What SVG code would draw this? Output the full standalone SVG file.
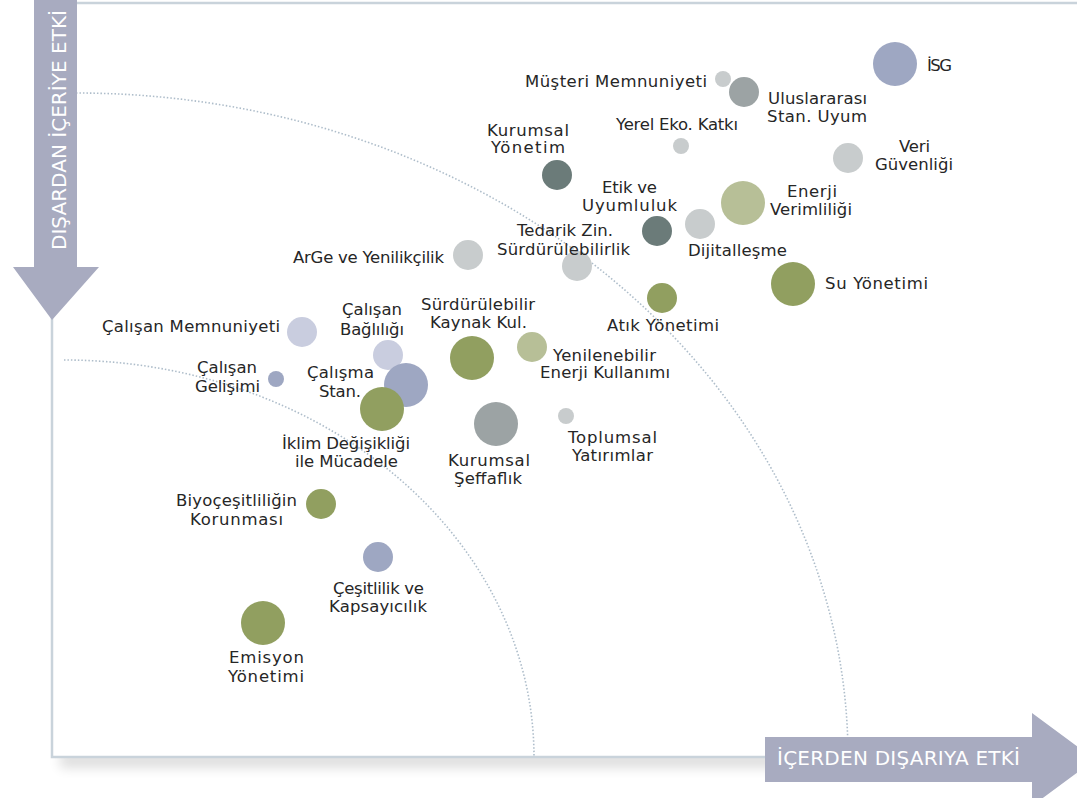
<svg xmlns="http://www.w3.org/2000/svg" width="1077" height="798" viewBox="0 0 1077 798">
<defs>
<filter id="blur" x="-10%" y="-200%" width="120%" height="500%"><feGaussianBlur stdDeviation="6"/></filter>
<style>
.lbl{font-family:"DejaVu Sans","Liberation Sans",sans-serif;font-size:16.5px;fill:#262626}
.ax{font-family:"DejaVu Sans","Liberation Sans",sans-serif;font-size:20px;fill:#ffffff}
.arc{fill:none;stroke:#aebdca;stroke-width:1.6;stroke-dasharray:1.5 2}
.lav{fill:#9ea7c2}.llav{fill:#c9cddf}.olv{fill:#919f60}.lolv{fill:#b7bf97}
.dk{fill:#6b7b79}.mg{fill:#9ca3a4}.lg{fill:#c8cccd}
.arrow{fill:#a8abc0}
</style>
</defs>
<rect width="1077" height="798" fill="#ffffff"/>
<rect x="60" y="752" width="1040" height="16" fill="#000" opacity="0.13" filter="url(#blur)"/>
<rect x="52" y="3" width="1100" height="754" fill="#ffffff" stroke="#c9d3db" stroke-width="2.5"/>
<g id="connectors">
<path class="arc" d="M 64 360 A 470 397 0 0 1 534 757"/>
<path class="arc" d="M 76 93 A 772 664 0 0 1 848 757"/>
</g>
<g id="isg"><circle class="lav" cx="895" cy="64" r="22"/><text class="lbl" x="927" y="71" textLength="25">İSG</text></g>
<g id="musteri"><circle class="lg" cx="723" cy="79" r="8"/><text class="lbl" x="525" y="87" textLength="182">Müşteri Memnuniyeti</text></g>
<g id="uluslararasi"><circle class="mg" cx="744" cy="92" r="15"/><text class="lbl" x="768" y="104" textLength="99">Uluslararası</text><text class="lbl" x="767" y="122" textLength="100">Stan. Uyum</text></g>
<g id="yerel"><circle class="lg" cx="681" cy="146" r="8"/><text class="lbl" x="616" y="130" textLength="122">Yerel Eko. Katkı</text></g>
<g id="kurumsal-yonetim"><circle class="dk" cx="557" cy="175" r="15"/><text class="lbl" x="487" y="136" textLength="82">Kurumsal</text><text class="lbl" x="491" y="153" textLength="74">Yönetim</text></g>
<g id="veri"><circle class="lg" cx="848" cy="158" r="15"/><text class="lbl" x="899" y="152" textLength="31">Veri</text><text class="lbl" x="875" y="170" textLength="78">Güvenliği</text></g>
<g id="etik"><circle class="dk" cx="657" cy="231" r="15"/><text class="lbl" x="602" y="193" textLength="55">Etik ve</text><text class="lbl" x="582" y="211" textLength="95">Uyumluluk</text></g>
<g id="enerji-verimliligi"><circle class="lolv" cx="743" cy="203" r="22"/><text class="lbl" x="787" y="197" textLength="50">Enerji</text><text class="lbl" x="770" y="215" textLength="82">Verimliliği</text></g>
<g id="dijitallesme"><circle class="lg" cx="700" cy="224" r="15"/><text class="lbl" x="688" y="256" textLength="99">Dijitalleşme</text></g>
<g id="tedarik"><circle class="lg" cx="577" cy="266" r="15"/><text class="lbl" x="517" y="236" textLength="96">Tedarik Zin.</text><text class="lbl" x="497" y="255" textLength="133">Sürdürülebilirlik</text></g>
<g id="arge"><circle class="lg" cx="468" cy="255" r="15"/><text class="lbl" x="293" y="263" textLength="151">ArGe ve Yenilikçilik</text></g>
<g id="su"><circle class="olv" cx="793" cy="284" r="22"/><text class="lbl" x="825" y="289" textLength="103">Su Yönetimi</text></g>
<g id="atik"><circle class="olv" cx="662" cy="298" r="15"/><text class="lbl" x="607" y="331" textLength="112">Atık Yönetimi</text></g>
<g id="kaynak"><circle class="olv" cx="472" cy="358" r="22"/><text class="lbl" x="421" y="310" textLength="114">Sürdürülebilir</text><text class="lbl" x="430" y="328" textLength="97">Kaynak Kul.</text></g>
<g id="yenilenebilir"><circle class="lolv" cx="532" cy="347" r="15"/><text class="lbl" x="553" y="361" textLength="103">Yenilenebilir</text><text class="lbl" x="540" y="378" textLength="130">Enerji Kullanımı</text></g>
<g id="calisan-memnuniyeti"><circle class="llav" cx="302" cy="332" r="15"/><text class="lbl" x="102" y="332" textLength="178">Çalışan Memnuniyeti</text></g>
<g id="calisan-bagliligi"><circle class="llav" cx="388" cy="355" r="15"/><text class="lbl" x="342" y="315" textLength="60">Çalışan</text><text class="lbl" x="340" y="335" textLength="64">Bağlılığı</text></g>
<g id="calisma-stan"><circle class="lav" cx="406" cy="385" r="22"/><text class="lbl" x="307" y="378" textLength="67">Çalışma</text><text class="lbl" x="319" y="397" textLength="42">Stan.</text></g>
<g id="calisan-gelisimi"><circle class="lav" cx="276" cy="379" r="8"/><text class="lbl" x="197" y="373" textLength="60">Çalışan</text><text class="lbl" x="195" y="392" textLength="65">Gelişimi</text></g>
<g id="iklim"><circle class="olv" cx="382" cy="409" r="22"/><text class="lbl" x="282" y="449" textLength="128">İklim Değişikliği</text><text class="lbl" x="295" y="467" textLength="103">ile Mücadele</text></g>
<g id="seffaflik"><circle class="mg" cx="496" cy="424" r="22"/><text class="lbl" x="448" y="466" textLength="82">Kurumsal</text><text class="lbl" x="454" y="484" textLength="68">Şeffaflık</text></g>
<g id="toplumsal"><circle class="lg" cx="566" cy="416" r="8"/><text class="lbl" x="568" y="443" textLength="89">Toplumsal</text><text class="lbl" x="572" y="461" textLength="81">Yatırımlar</text></g>
<g id="biyocesitlilik"><circle class="olv" cx="321" cy="504" r="15"/><text class="lbl" x="176" y="506" textLength="121">Biyoçeşitliliğin</text><text class="lbl" x="190" y="525" textLength="93">Korunması</text></g>
<g id="cesitlilik"><circle class="lav" cx="378" cy="557" r="15"/><text class="lbl" x="333" y="594" textLength="91">Çeşitlilik ve</text><text class="lbl" x="329" y="612" textLength="98">Kapsayıcılık</text></g>
<g id="emisyon"><circle class="olv" cx="263" cy="623" r="22"/><text class="lbl" x="229" y="663" textLength="75">Emisyon</text><text class="lbl" x="228" y="682" textLength="76">Yönetimi</text></g>
<g id="axis-y">
<polygon class="arrow" points="34,0 77,0 77,267 99,267 52,320 13,267 34,267"/>
<text class="ax" transform="translate(65.5,250) rotate(-90)" x="0" y="0" textLength="240">DIŞARDAN İÇERİYE ETKİ</text>
</g>
<g id="axis-x">
<polygon class="arrow" points="765,737 1032,737 1032,713 1095,759.5 1032,806 1032,782 765,782"/>
<text class="ax" x="777" y="765" textLength="243">İÇERDEN DIŞARIYA ETKİ</text>
</g>
</svg>
